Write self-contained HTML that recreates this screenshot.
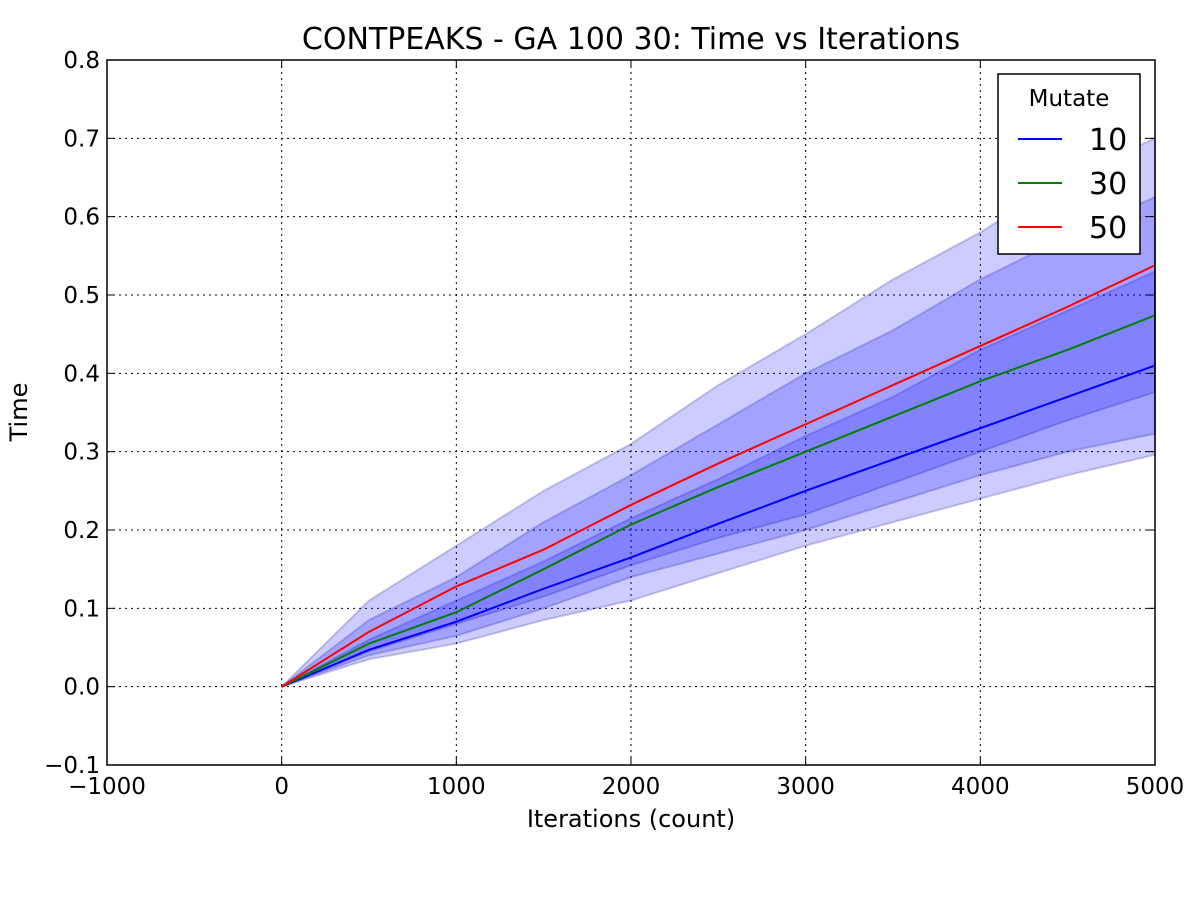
<!DOCTYPE html>
<html><head><meta charset="utf-8"><style>
html,body{margin:0;padding:0;background:#fff;}
svg{display:block;font-family:"DejaVu Sans","Liberation Sans",sans-serif;}
</style></head><body>
<svg id="chart" width="1200" height="900" xmlns="http://www.w3.org/2000/svg">
<rect width="1200" height="900" fill="#fff"/>
<g id="grid"></g>
<g id="bands"></g>
<g id="lines"></g>
<rect x="107" y="60" width="1048" height="705" fill="none" stroke="#000" stroke-width="1.5"/>
<g id="ticks"></g>
<text x="631" y="49" font-size="30" text-anchor="middle">CONTPEAKS - GA 100 30: Time vs Iterations</text>
<text x="631" y="827" font-size="24" text-anchor="middle">Iterations (count)</text>
<text x="27" y="412" font-size="24" text-anchor="middle" transform="rotate(-90 27 412)">Time</text>
<g>
<rect x="998" y="74" width="142" height="180" fill="#fff" stroke="#000" stroke-width="1.5"/>
<text x="1069" y="106" font-size="23" text-anchor="middle">Mutate</text>
<g><line x1="1018" y1="139" x2="1062" y2="139" stroke="#0000ff" stroke-width="2"/><text x="1089" y="150" font-size="30">10</text></g>
<g><line x1="1018" y1="183" x2="1062" y2="183" stroke="#008000" stroke-width="2"/><text x="1089" y="194" font-size="30">30</text></g>
<g><line x1="1018" y1="227" x2="1062" y2="227" stroke="#ff0000" stroke-width="2"/><text x="1089" y="238" font-size="30">50</text></g>
</g>
</svg>
<script>
const iterations = [0,500,1000,1500,2000,2500,3000,3500,4000,4500,5000];
const mean10 = [0,.047,.083,.125,.165,.208,.25,.29,.33,.37,.41];
const upper10 = [0,.06,.11,.16,.215,.265,.32,.37,.43,.48,.53];
const lower10 = [0,.035,.055,.085,.11,.145,.18,.21,.24,.27,.296];
const mean30 = [0,.055,.095,.15,.207,.255,.30,.345,.39,.43,.474];
const upper30 = [0,.085,.14,.21,.27,.335,.40,.455,.52,.575,.625];
const lower30 = [0,.04,.065,.10,.14,.17,.20,.235,.27,.30,.323];
const mean50 = [0,.07,.128,.175,.232,.285,.335,.385,.435,.485,.538];
const upper50 = [0,.11,.18,.25,.31,.385,.45,.52,.58,.65,.70];
const lower50 = [0,.045,.08,.115,.155,.19,.22,.26,.30,.34,.376];
const xTicks = [-1000,0,1000,2000,3000,4000,5000];
const yTicks = [-0.1,0,0.1,0.2,0.3,0.4,0.5,0.6,0.7,0.8];

const X0=107,X1=1155,Y0=765,Y1=60;
const sx=v=>X0+(v+1000)/6000*(X1-X0);
const sy=v=>Y0-(v+0.1)/0.9*(Y0-Y1);
const NS="http://www.w3.org/2000/svg";
function mk(t,a,p){const e=document.createElementNS(NS,t);for(const k in a)e.setAttribute(k,a[k]);p.appendChild(e);return e;}
const grid=document.getElementById('grid'),ticks=document.getElementById('ticks');
xTicks.forEach(v=>{
  const x=sx(v);
  const g=mk('line',{x1:x,x2:x,y1:Y1,y2:Y0,stroke:'#000','stroke-width':1,'stroke-dasharray':'2,4'},grid);
  
  
  mk('line',{x1:x,x2:x,y1:Y0,y2:Y0-8,stroke:'#000'},ticks);
  mk('line',{x1:x,x2:x,y1:Y1,y2:Y1+8,stroke:'#000'},ticks);
  const t=mk('text',{x:x,y:Y0+29,'font-size':23,'text-anchor':'middle'},ticks);
  t.textContent=v<0?'\u2212'+Math.abs(v):String(v);
  
  
});
yTicks.forEach(v=>{
  const y=sy(v);
  const g=mk('line',{x1:X0,x2:X1,y1:y,y2:y,stroke:'#000','stroke-width':1,'stroke-dasharray':'2,4'},grid);
  
  
  mk('line',{x1:X0,x2:X0+8,y1:y,y2:y,stroke:'#000'},ticks);
  mk('line',{x1:X1,x2:X1-8,y1:y,y2:y,stroke:'#000'},ticks);
  const t=mk('text',{x:X0-7,y:y+8,'font-size':23,'text-anchor':'end'},ticks);
  t.textContent=(v<0?'\u2212':'')+Math.abs(v).toFixed(1);
  
  
});
const bands=document.getElementById('bands'),lines=document.getElementById('lines');
[[upper10,lower10,'10'],[upper30,lower30,'30'],[upper50,lower50,'50']].forEach(([u,l,n])=>{
  let d='M'+iterations.map((x,i)=>sx(x)+','+sy(u[i])).join('L');
  d+='L'+iterations.slice().reverse().map((x,i)=>sx(x)+','+sy(l[l.length-1-i])).join('L')+'Z';
  const p=mk('path',{d:d,fill:'rgba(0,0,255,0.2)',stroke:'rgba(0,0,128,0.2)','stroke-width':2},bands);
  
  
});
[[mean10,'#0000ff','10'],[mean30,'#008000','30'],[mean50,'#ff0000','50']].forEach(([m,c,n])=>{
  const p=mk('polyline',{points:iterations.map((x,i)=>sx(x)+','+sy(m[i])).join(' '),fill:'none',stroke:c,'stroke-width':2},lines);
  
  
});
</script>
</body></html>
